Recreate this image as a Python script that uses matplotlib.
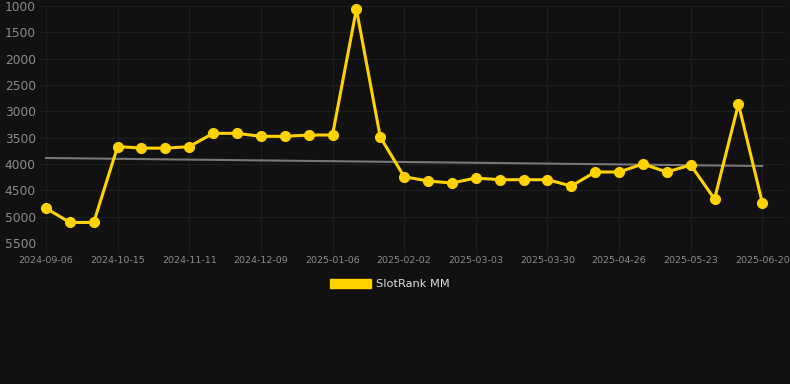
import numpy as np
from matplotlib import pyplot as plt
from matplotlib.patches import Patch

dates = ["2024-09-06", "2024-09-19", "2024-10-02", "2024-10-15", "2024-10-24",
         "2024-11-02", "2024-11-11", "2024-11-20", "2024-11-30", "2024-12-09",
         "2024-12-18", "2024-12-28", "2025-01-06", "2025-01-15", "2025-01-24",
         "2025-02-02", "2025-02-12", "2025-02-21", "2025-03-03", "2025-03-12",
         "2025-03-21", "2025-03-30", "2025-04-08", "2025-04-17", "2025-04-26",
         "2025-05-05", "2025-05-14", "2025-05-23", "2025-06-01", "2025-06-11",
         "2025-06-20"]
rank = [4840, 5110, 5110, 3670, 3697, 3700, 3670, 3418, 3418, 3475,
        3475, 3450, 3450, 1057, 3488, 4241, 4323, 4361, 4266, 4298,
        4298, 4298, 4418, 4152, 4152, 4000, 4152, 4019, 4665, 2861,
        4735]
trend = [3886, 4038]  # start / end of the grey trend line

bg = "#111111"
gold = "#FFD200"

fig = plt.figure(figsize=(7.9, 3.84), dpi=100, facecolor=bg)
ax = fig.add_axes([40 / 790, 1 - 243 / 384, 745 / 790, 237 / 384])
ax.set_facecolor(bg)

x = np.arange(len(dates))
ax.plot([x[0], x[-1]], trend, color="#777777", linewidth=1.5, zorder=2)
ax.plot(x, rank, color=gold, linewidth=2.2, marker="o", markersize=7,
        zorder=3, clip_on=False)

ax.set_ylim(5500, 1000)
ax.set_yticks(range(1000, 5501, 500))
ax.set_xlim(-0.25, len(dates) - 0.05)
ax.set_xticks(x[::3])
ax.set_xticklabels(dates[::3])

ax.grid(color="#1e1e1e", linewidth=0.8)
ax.set_axisbelow(True)
for s in ax.spines.values():
    s.set_visible(False)
ax.tick_params(axis="y", length=0, pad=3, labelsize=8.8, labelcolor="#8a8a8a")
ax.tick_params(axis="x", length=8, color="#1e1e1e", pad=1.5, labelsize=6.8,
               labelcolor="#8a8a8a")

fig.legend(handles=[Patch(color=gold, label="SlotRank MM")],
           loc="center", bbox_to_anchor=(390 / 790, 1 - 284 / 384),
           frameon=False, fontsize=8.2, labelcolor="#dddddd",
           handlelength=3.6, handleheight=0.9, handletextpad=0.5)

fig.savefig("out.png", facecolor=bg)
